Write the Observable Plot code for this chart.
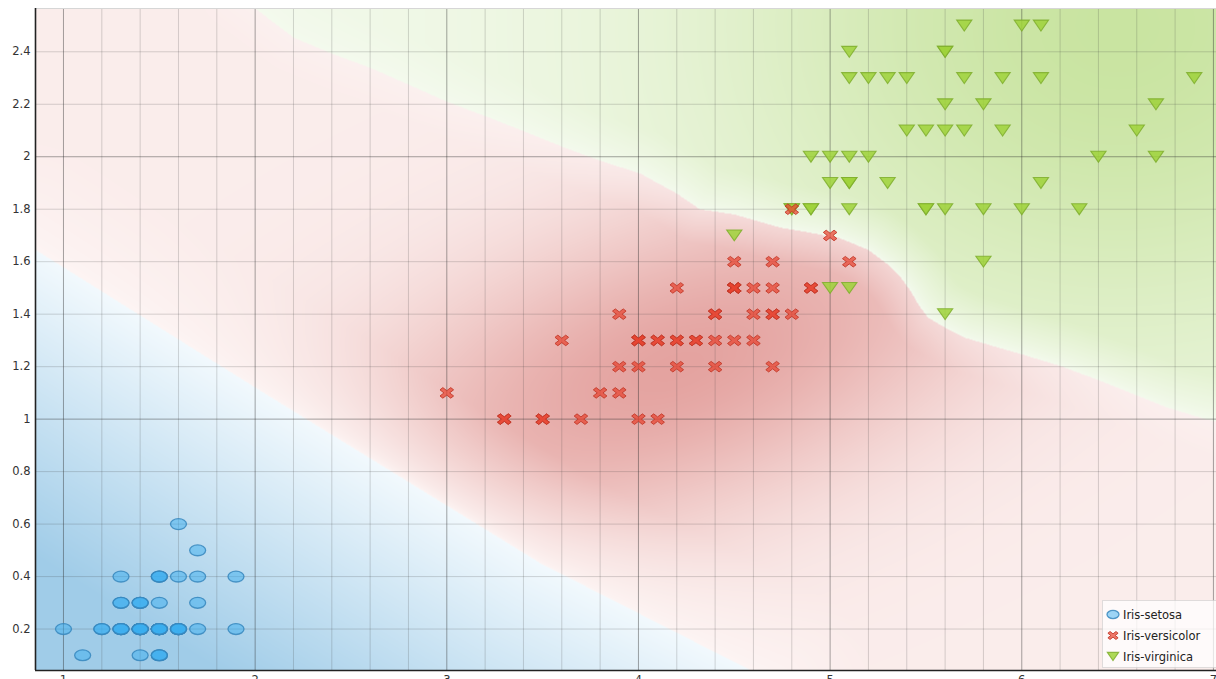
<!DOCTYPE html>
<html>
<head>
<meta charset="utf-8">
<script src="https://cdn.jsdelivr.net/npm/d3@7"></script>
<script src="https://cdn.jsdelivr.net/npm/@observablehq/plot@0.6"></script>
<style>
html,body{margin:0;padding:0;background:#fff;overflow:hidden;}
#chart{position:relative;width:1216px;height:679px;}
#legend{position:absolute;left:1102px;top:600px;width:118px;height:68px;background:rgba(255,255,255,0.72);border:1px solid rgba(0,0,0,0.12);box-sizing:border-box;}
#legend svg{display:block;}
</style>
</head>
<body>
<div id="chart"><div id="legend"></div></div>
<script>
// ---- data: Iris petal length (x) / petal width (y) ----
const species = ["Iris-setosa", "Iris-versicolor", "Iris-virginica"];
const setosaLength = [1.4,1.4,1.3,1.5,1.4,1.7,1.4,1.5,1.4,1.5,1.5,1.6,1.4,1.1,1.2,1.5,1.3,1.4,1.7,1.5,1.7,1.5,1.0,1.7,1.9,1.6,1.6,1.5,1.4,1.6,1.6,1.5,1.5,1.4,1.5,1.2,1.3,1.5,1.3,1.5,1.3,1.3,1.3,1.6,1.9,1.4,1.6,1.4,1.5,1.4];
const setosaWidth  = [0.2,0.2,0.2,0.2,0.2,0.4,0.3,0.2,0.2,0.1,0.2,0.2,0.1,0.1,0.2,0.4,0.4,0.3,0.3,0.3,0.2,0.4,0.2,0.5,0.2,0.2,0.4,0.2,0.2,0.2,0.2,0.4,0.1,0.2,0.2,0.2,0.2,0.1,0.2,0.2,0.3,0.3,0.2,0.6,0.4,0.3,0.2,0.2,0.2,0.2];
const versicolorLength = [4.7,4.5,4.9,4.0,4.6,4.5,4.7,3.3,4.6,3.9,3.5,4.2,4.0,4.7,3.6,4.4,4.5,4.1,4.5,3.9,4.8,4.0,4.9,4.7,4.3,4.4,4.8,5.0,4.5,3.5,3.8,3.7,3.9,5.1,4.5,4.5,4.7,4.4,4.1,4.0,4.4,4.6,4.0,3.3,4.2,4.2,4.2,4.3,3.0,4.1];
const versicolorWidth  = [1.4,1.5,1.5,1.3,1.5,1.3,1.6,1.0,1.3,1.4,1.0,1.5,1.0,1.4,1.3,1.4,1.5,1.0,1.5,1.1,1.8,1.3,1.5,1.2,1.3,1.4,1.4,1.7,1.5,1.0,1.1,1.0,1.2,1.6,1.5,1.6,1.5,1.3,1.3,1.3,1.2,1.4,1.2,1.0,1.3,1.2,1.3,1.3,1.1,1.3];
const virginicaLength = [6.0,5.1,5.9,5.6,5.8,6.6,4.5,6.3,5.8,6.1,5.1,5.3,5.5,5.0,5.1,5.3,5.5,6.7,6.9,5.0,5.7,4.9,6.7,4.9,5.7,6.0,4.8,4.9,5.6,5.8,6.1,6.4,5.6,5.1,5.6,6.1,5.6,5.5,4.8,5.4,5.6,5.1,5.1,5.9,5.7,5.2,5.0,5.2,5.4,5.1];
const virginicaWidth  = [2.5,1.9,2.1,1.8,2.2,2.1,1.7,1.8,1.8,2.5,2.0,1.9,2.1,2.0,2.4,2.3,1.8,2.2,2.3,1.5,2.3,2.0,2.0,1.8,2.1,1.8,1.8,1.8,2.1,1.6,1.9,2.0,2.2,1.5,1.4,2.3,2.4,1.8,1.8,2.1,2.4,2.3,1.9,2.3,2.5,2.3,1.9,2.0,2.3,1.8];

// decision boundaries (petal length, petal width)
const blueRedBoundary = [[0.80,1.67],[2.03,1.107],[3.49,0.45],[4.70,0.0]];
const redGreenBoundary = [[1.90,2.62],[2.00,2.565],[2.20,2.454],[2.41,2.39],[2.60,2.339],[2.80,2.275],[3.00,2.21],[3.20,2.155],[3.40,2.098],[3.61,2.036],[3.80,1.985],[4.01,1.936],[4.20,1.86],[4.32,1.80],[4.50,1.78],[4.74,1.73],[4.90,1.71],[5.05,1.69],[5.20,1.645],[5.30,1.59],[5.37,1.539],[5.42,1.488],[5.46,1.438],[5.51,1.387],[5.60,1.349],[5.70,1.311],[5.82,1.285],[6.00,1.247],[6.20,1.203],[6.41,1.146],[6.58,1.096],[6.76,1.044],[6.93,1.006],[7.02,0.99],[7.10,0.965]];

// tick labels / grid
const xTicks = [1,2,3,4,5,6,7];
const yTicks = [0.2,0.4,0.6,0.8,1,1.2,1.4,1.6,1.8,2,2.2,2.4];
const xGrid = d3.range(5, 36).map(i => i / 5);
const yGrid = d3.range(1, 13).map(i => i / 5);

const xDomain = [0.854, 7.016];
const yDomain = [0.042, 2.565];

const W = 1216, H = 679, mL = 35, mR = 0, mT = 8, mB = 9;
const kx = (W - mL - mR) / (xDomain[1] - xDomain[0]);
const ky = (H - mT - mB) / (yDomain[1] - yDomain[0]);

// ---- shading of the decision surface ----
const blueLUT = d3.range(256).map(i => d3.rgb(d3.interpolateRgb("#f2f9fd", "#a0cce8")(i / 255)).formatHex());
const redLUT = d3.range(256).map(i => d3.rgb(d3.interpolateRgb("#fdf5f4", "#e4a3a0")(i / 255)).formatHex());
const greenLUT = d3.range(256).map(i => d3.rgb(d3.interpolateRgb("#f4faee", "#c9e4a1")(i / 255)).formatHex());
const redCore = [4.2, 1.2], redSpread = [1.2, 0.42], redTilt = 0.2;
const greenCore = [6.5, 2.5], greenSpread = [1.5, 0.9];

const BPx = blueRedBoundary.map(([a, b]) => [a * kx, b * ky]);
const GPx = redGreenBoundary.map(([a, b]) => [a * kx, b * ky]);
const clamp = v => v < 0 ? 0 : v > 1 ? 1 : v;
function interp(poly, x) {
  let i = 0;
  while (i < poly.length - 2 && x > poly[i + 1][0]) i++;
  const [x0, y0] = poly[i], [x1, y1] = poly[i + 1];
  return y0 + (y1 - y0) * (x - x0) / (x1 - x0);
}
function polyDist(poly, px, py) {
  let best = Infinity;
  for (let i = 0; i < poly.length - 1; i++) {
    const ax = poly[i][0], ay = poly[i][1], dx = poly[i + 1][0] - ax, dy = poly[i + 1][1] - ay;
    let t = ((px - ax) * dx + (py - ay) * dy) / (dx * dx + dy * dy);
    t = t < 0 ? 0 : t > 1 ? 1 : t;
    const ex = ax + t * dx - px, ey = ay + t * dy - py;
    const d = ex * ex + ey * ey;
    if (d < best) best = d;
  }
  return Math.sqrt(best);
}
function surface(x, y) {
  const px = x * kx, py = y * ky;
  if (y < interp(blueRedBoundary, x)) {
    const t = clamp(polyDist(BPx, px, py) / 260);
    return blueLUT[Math.round(t * 255)];
  }
  if (y > interp(redGreenBoundary, x)) {
    const u = (x - greenCore[0]) / greenSpread[0], v = (y - greenCore[1]) / greenSpread[1];
    const ic = Math.exp(-(u * u + v * v) / 2);
    const t = Math.pow(clamp(polyDist(GPx, px, py) / 45), 0.7) * (0.06 + 0.94 * ic);
    return greenLUT[Math.round(clamp(t) * 255)];
  }
  const dx = x - redCore[0], dy = (y - redCore[1]) - redTilt * dx;
  const u = dx / redSpread[0], v = dy / redSpread[1];
  const ic = Math.exp(-(u * u + v * v) / 2);
  const t = (0.1 + 0.9 * ic) * Math.pow(clamp(polyDist(BPx, px, py) / 100), 0.6) * (0.6 + 0.4 * clamp(polyDist(GPx, px, py) / 35));
  return redLUT[Math.round(clamp(t) * 255)];
}

// ---- symbols (stretched like the original) ----
const ellipse = {draw(ctx, size) {
  const r = Math.sqrt(size / Math.PI), rx = r, ry = r * 0.68, k = 0.5523;
  ctx.moveTo(rx, 0);
  ctx.bezierCurveTo(rx, ry * k, rx * k, ry, 0, ry);
  ctx.bezierCurveTo(-rx * k, ry, -rx, ry * k, -rx, 0);
  ctx.bezierCurveTo(-rx, -ry * k, -rx * k, -ry, 0, -ry);
  ctx.bezierCurveTo(rx * k, -ry, rx, -ry * k, rx, 0);
  ctx.closePath();
}};
const cross = {draw(ctx, size) {
  const r = Math.sqrt(size / Math.PI), hx = r * 0.85, hy = r * 0.66, a = 0.42;
  const pts = [[-1,-1+a],[-1+a,-1],[0,-a],[1-a,-1],[1,-1+a],[a,0],[1,1-a],[1-a,1],[0,a],[-1+a,1],[-1,1-a],[-a,0]];
  pts.forEach(([u, v], i) => i ? ctx.lineTo(u * hx, v * hy) : ctx.moveTo(u * hx, v * hy));
  ctx.closePath();
}};
const triangle = {draw(ctx, size) {
  const r = Math.sqrt(size / Math.PI), hx = r * 0.95, hy = r * 0.68;
  ctx.moveTo(-hx, -hy); ctx.lineTo(hx, -hy); ctx.lineTo(0, hy); ctx.closePath();
}};

const styles = {
  "Iris-setosa": {symbol: ellipse, fill: "#3aaef0", fillOpacity: 0.5, stroke: "#3787bd", strokeOpacity: 0.85, strokeWidth: 1.3},
  "Iris-versicolor": {symbol: cross, fill: "#e8432f", fillOpacity: 0.72, stroke: "#c23a2a", strokeOpacity: 0.9, strokeWidth: 1},
  "Iris-virginica": {symbol: triangle, fill: "#9fd23a", fillOpacity: 0.85, stroke: "#7fae2e", strokeOpacity: 0.85, strokeWidth: 1.1}
};

const setosa = setosaLength.map((l, i) => ({length: l, width: setosaWidth[i]}));
const versicolor = versicolorLength.map((l, i) => ({length: l, width: versicolorWidth[i]}));
const virginica = virginicaLength.map((l, i) => ({length: l, width: virginicaWidth[i]}));

const chart = Plot.plot({
  width: W, height: H,
  marginLeft: mL, marginRight: mR, marginTop: mT, marginBottom: mB,
  x: {domain: xDomain, axis: null, label: null},
  y: {domain: yDomain, axis: null, label: null},
  color: {type: "identity"},
  style: {fontFamily: "'DejaVu Sans', Verdana, sans-serif", fontSize: "11.5px", color: "#333", background: "transparent", overflow: "visible"},
  marks: [
    Plot.raster({fill: surface, x1: xDomain[0], x2: xDomain[1], y1: yDomain[0], y2: yDomain[1], pixelSize: 1}),
    Plot.ruleX(xGrid.filter(v => !Number.isInteger(v)), {stroke: "#3a3a3a", strokeOpacity: 0.2}),
    Plot.ruleX(xGrid.filter(v => Number.isInteger(v)), {stroke: "#2a2a2a", strokeOpacity: 0.42}),
    Plot.ruleY(yGrid.filter(v => !Number.isInteger(v)), {stroke: "#3a3a3a", strokeOpacity: 0.2}),
    Plot.ruleY(yGrid.filter(v => Number.isInteger(v)), {stroke: "#2a2a2a", strokeOpacity: 0.42}),
    Plot.ruleY([yDomain[1]], {stroke: "#d6d6d6"}),
    Plot.ruleX([xDomain[0]], {stroke: "#222", strokeWidth: 1.6}),
    Plot.ruleY([yDomain[0]], {stroke: "#222", strokeWidth: 1.6}),
    Plot.axisX(xTicks, {tickSize: 0, tickPadding: 5, tickFormat: d => String(d), fill: "#333", label: null}),
    Plot.axisY(yTicks, {tickSize: 0, tickPadding: 5, tickFormat: d => String(d), fill: "#333", label: null}),
    Plot.dot(setosa, {x: "length", y: "width", r: 8, ...styles["Iris-setosa"]}),
    Plot.dot(virginica, {x: "length", y: "width", r: 8, ...styles["Iris-virginica"]}),
    Plot.dot(versicolor, {x: "length", y: "width", r: 8, ...styles["Iris-versicolor"]})
  ]
});
const host = document.getElementById("chart");
host.insertBefore(chart, host.firstChild);

// ---- legend ----
const lsvg = d3.select("#legend").append("svg").attr("width", 118).attr("height", 68);
species.forEach((name, i) => {
  const s = styles[name];
  const p = d3.path();
  s.symbol.draw(p, 6 * 6 * Math.PI);
  const cy = 13.5 + i * 21;
  lsvg.append("path").attr("d", p.toString()).attr("transform", `translate(10,${cy})`)
    .attr("fill", s.fill).attr("fill-opacity", s.fillOpacity)
    .attr("stroke", s.stroke).attr("stroke-opacity", s.strokeOpacity).attr("stroke-width", s.strokeWidth);
  lsvg.append("text").attr("x", 20).attr("y", cy + 4).text(name)
    .attr("font-family", "'DejaVu Sans', Verdana, sans-serif").attr("font-size", "11.5px").attr("fill", "#222");
});
</script>
</body>
</html>
